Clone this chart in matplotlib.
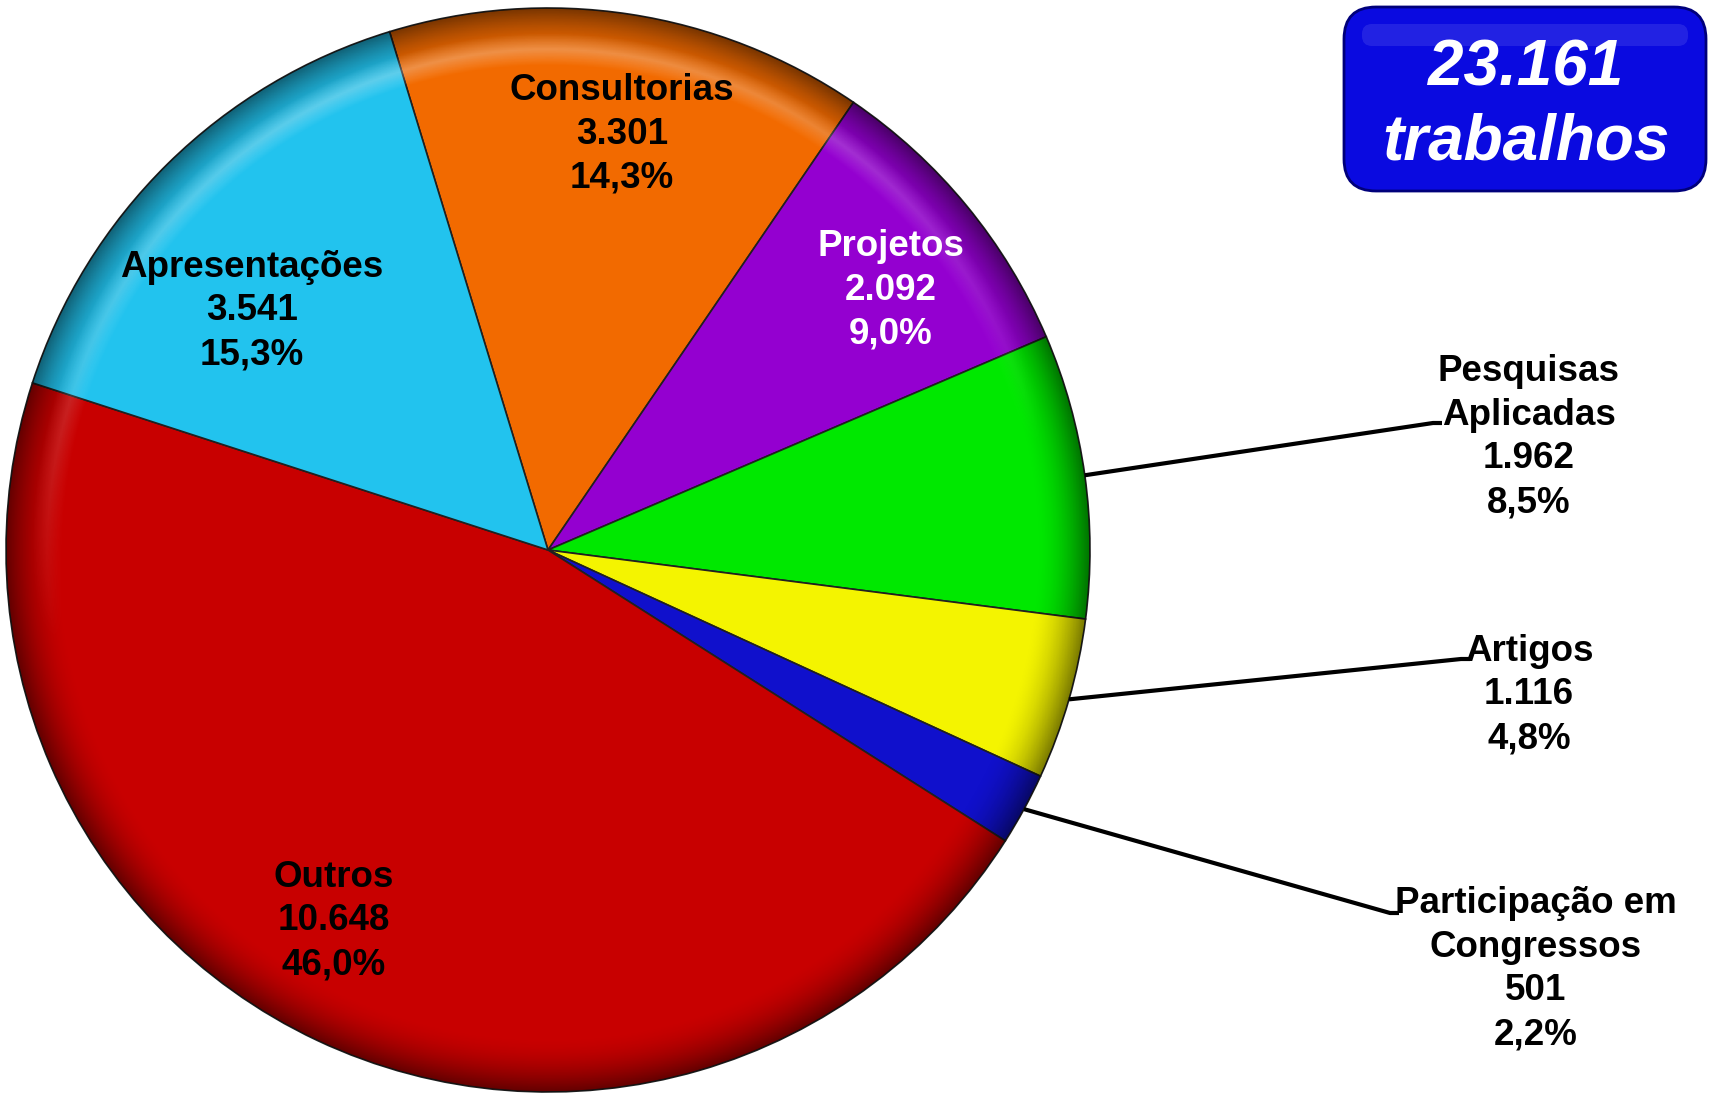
import numpy as np
import matplotlib
matplotlib.use("Agg")
from matplotlib import pyplot as plt
from matplotlib.patches import FancyBboxPatch, Circle

# data (clockwise from the top)
categorias = ["Consultorias", "Projetos", "Pesquisas\nAplicadas", "Artigos",
              "Participação em\nCongressos", "Outros", "Apresentações"]
valores = [3301, 2092, 1962, 1116, 501, 10648, 3541]
cores = ["#F26A00", "#9400D0", "#00E800", "#F4F400", "#1010CC", "#C80000", "#22C3EE"]

W, H = 1709, 1095
fig = plt.figure(figsize=(W / 100, H / 100), dpi=100)
ax = fig.add_axes([0, 0, 1, 1])

cx, cy, R = 548, H - 550, 542
wedges, _ = ax.pie(valores, colors=cores, startangle=107, counterclock=False,
                   center=(cx, cy), radius=R, frame=True,
                   wedgeprops=dict(edgecolor="#202020", linewidth=1.2))

# bevel-like shading on the rim
n = 700
xs = np.linspace(-1, 1, n)
X, Y = np.meshgrid(xs, xs)
r = np.sqrt(X ** 2 + Y ** 2)
dark = np.clip((r - 0.9) / 0.1, 0, 1) ** 1.8 * 0.5
light = np.clip(1 - np.abs(r - 0.925) / 0.03, 0, 1) * 0.3 * np.clip(Y - 0.2 * X, 0, 1)
shade = np.zeros((n, n, 4))
shade[..., 3] = dark
hl = np.ones((n, n, 4))
hl[..., 3] = light
for arr in (shade, hl):
    img = ax.imshow(arr, extent=(cx - R, cx + R, cy - R, cy + R), origin="lower", zorder=2)
    img.set_clip_path(Circle((cx, cy), R, transform=ax.transData))

ax.set_xlim(0, W)
ax.set_ylim(0, H)
ax.set_aspect("equal")
ax.axis("off")


def fmt_num(v):
    return f"{v:,}".replace(",", ".")


def fmt_pct(v):
    return f"{100 * v / sum(valores):.1f}".replace(".", ",") + "%"


fonte = dict(family="Liberation Sans", weight="bold", fontsize=26.5,
             ha="center", va="center", linespacing=1.33)

# label positions in pixels (x, y from top)
pos_rotulos = [(622, 134), (891, 290), (1529, 437), (1529, 695),
               (1536, 969), (334, 921), (252, 311)]
cor_txt = ["black", "white", "black", "black", "black", "black", "black"]
externos = {2: (1433, 423), 3: (1461, 659), 4: (1390, 913)}

for i, (nome, v) in enumerate(zip(categorias, valores)):
    x, y = pos_rotulos[i]
    ax.text(x, H - y, f"{nome}\n{fmt_num(v)}\n{fmt_pct(v)}", color=cor_txt[i],
            zorder=5, **fonte)
    if i in externos:
        w = wedges[i]
        ang = np.deg2rad((w.theta1 + w.theta2) / 2)
        x0, y0 = cx + R * np.cos(ang), cy + R * np.sin(ang)
        ex, ey = externos[i]
        ax.plot([x0, ex, ex + 9], [y0, H - ey, H - ey], color="black",
                lw=3, solid_capstyle="butt", zorder=4)

# total box
box = FancyBboxPatch((1344, H - 191), 362, 184, boxstyle="round,pad=0,rounding_size=32",
                     facecolor="#0A0AE0", edgecolor="#00007A", linewidth=2, zorder=5)
ax.add_patch(box)
brilho = FancyBboxPatch((1362, H - 46), 326, 22, boxstyle="round,pad=0,rounding_size=10",
                        facecolor="white", edgecolor="none", alpha=0.1, zorder=5)
ax.add_patch(brilho)
ax.text(1526, H - 69, "23.161", color="white", family="Liberation Sans",
        weight="bold", style="italic", fontsize=46, ha="center", va="center", zorder=6)
ax.text(1526, H - 143, "trabalhos", color="white", family="Liberation Sans",
        weight="bold", style="italic", fontsize=46, ha="center", va="center", zorder=6)

fig.savefig("out.png", dpi=100, facecolor="white")
